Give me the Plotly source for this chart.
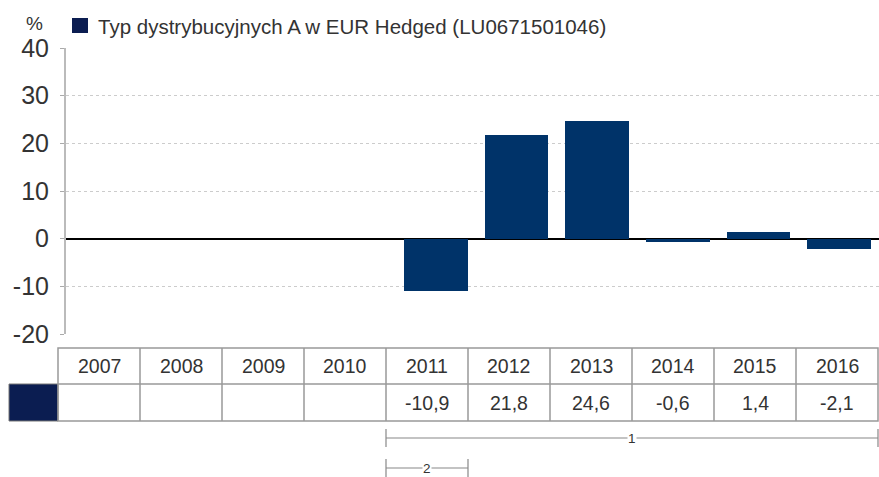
import plotly.graph_objects as go

# ---- data ----
years = ["2007", "2008", "2009", "2010", "2011", "2012", "2013", "2014", "2015", "2016"]
returns = [None, None, None, None, -10.9, 21.8, 24.6, -0.6, 1.4, -2.1]
return_labels = ["", "", "", "", "-10,9", "21,8", "24,6", "-0,6", "1,4", "-2,1"]
y_ticks = [-20, -10, 0, 10, 20, 30, 40]
series_name = "Typ dystrybucyjnych A w EUR Hedged (LU0671501046)"
brackets = [("1", 4, 9), ("2", 4, 4)]  # label, first column, last column

# ---- layout constants (pixels) ----
W, H = 879, 477
L, R, T, B = 66, 0, 48, 143
PW, PH = W - L - R, H - T - B
BAR = "#003369"
DARK = "#0b1d51"
TXT = "#333333"
FONT = "Liberation Sans, Arial, sans-serif"


def px(xp):
    return (xp - L) / PW


def py(yp):
    return (H - B - yp) / PH


fig = go.Figure()
fig.add_trace(go.Bar(
    x=list(range(len(years))), y=returns, width=0.79,
    marker=dict(color=BAR, line=dict(width=0)),
    showlegend=False, hoverinfo="skip",
))

shapes = []
annos = []

# legend
shapes.append(dict(type="rect", xref="paper", yref="paper",
                   x0=px(72), x1=px(88), y0=py(33), y1=py(18),
                   fillcolor=DARK, line=dict(width=0)))
annos.append(dict(xref="paper", yref="paper", x=px(96), y=py(26), text=series_name,
                  showarrow=False, xanchor="left", yanchor="middle",
                  font=dict(size=20.5, color=TXT, family=FONT)))
annos.append(dict(xref="paper", yref="paper", x=px(34), y=py(24), text="%",
                  showarrow=False, xanchor="center", yanchor="middle", borderpad=0,
                  font=dict(size=19, color=TXT, family=FONT)))

# table
col0, colw = 58, 82
r0, r1, r2 = 348, 384, 421
n = len(years)
lc = dict(color="#999999", width=1.5)
shapes.append(dict(type="rect", xref="paper", yref="paper",
                   x0=px(9), x1=px(col0), y0=py(r2), y1=py(r1),
                   fillcolor=DARK, line=dict(color="#777777", width=1)))
shapes.append(dict(type="rect", xref="paper", yref="paper",
                   x0=px(col0), x1=px(col0 + n * colw), y0=py(r2), y1=py(r0),
                   line=lc))
shapes.append(dict(type="line", xref="paper", yref="paper",
                   x0=px(col0), x1=px(col0 + n * colw), y0=py(r1), y1=py(r1), line=lc))
for i in range(1, n):
    xx = px(col0 + i * colw)
    shapes.append(dict(type="line", xref="paper", yref="paper",
                       x0=xx, x1=xx, y0=py(r2), y1=py(r0), line=lc))
for i, (yr, lab) in enumerate(zip(years, return_labels)):
    cx = px(col0 + (i + 0.5) * colw)
    annos.append(dict(xref="paper", yref="paper", x=cx, y=py((r0 + r1) / 2), text=yr,
                      showarrow=False, xanchor="center", yanchor="middle",
                      font=dict(size=19.5, color=TXT, family=FONT)))
    if lab:
        annos.append(dict(xref="paper", yref="paper", x=cx, y=py((r1 + r2) / 2), text=lab,
                          showarrow=False, xanchor="center", yanchor="middle",
                          font=dict(size=19.5, color=TXT, family=FONT)))

# brackets
bc = dict(color="#888888", width=1.2)
for k, (lab, c_a, c_b) in enumerate(brackets):
    yl = 438 + k * 30
    xa = col0 + c_a * colw
    xb = col0 + (c_b + 1) * colw
    shapes.append(dict(type="line", xref="paper", yref="paper",
                       x0=px(xa), x1=px(xb), y0=py(yl), y1=py(yl), line=bc))
    for xe in (xa, xb):
        shapes.append(dict(type="line", xref="paper", yref="paper",
                           x0=px(xe), x1=px(xe), y0=py(yl - 9), y1=py(yl + 9), line=bc))
    annos.append(dict(xref="paper", yref="paper", x=px((xa + xb) / 2), y=py(yl), text=lab,
                      showarrow=False, xanchor="center", yanchor="middle",
                      bgcolor="white", borderpad=0,
                      font=dict(size=13.5, color=TXT, family=FONT)))

fig.update_layout(
    width=W, height=H,
    margin=dict(l=L, r=R, t=T, b=B),
    paper_bgcolor="white", plot_bgcolor="white",
    shapes=shapes, annotations=annos,
    bargap=0,
    xaxis=dict(range=[-0.59, 9.496], showticklabels=False, showgrid=False,
               zeroline=False, showline=False, fixedrange=True),
    yaxis=dict(range=[-20, 40], tickvals=y_ticks, ticktext=[str(v) for v in y_ticks],
               tickfont=dict(size=25, color=TXT, family=FONT),
               ticks="outside", ticklen=4, tickcolor="#aaaaaa", ticklabelstandoff=6,
               showline=True, linecolor="#bbbbbb", linewidth=2,
               showgrid=True, gridcolor="#cccccc", griddash="3px,3px", gridwidth=1,
               zeroline=True, zerolinecolor="#000000", zerolinewidth=1.5,
               fixedrange=True),
    showlegend=False,
)

fig.write_html("out.html", config={"displayModeBar": False},
               post_script="document.body.style.margin='0';document.body.style.overflow='hidden';")
